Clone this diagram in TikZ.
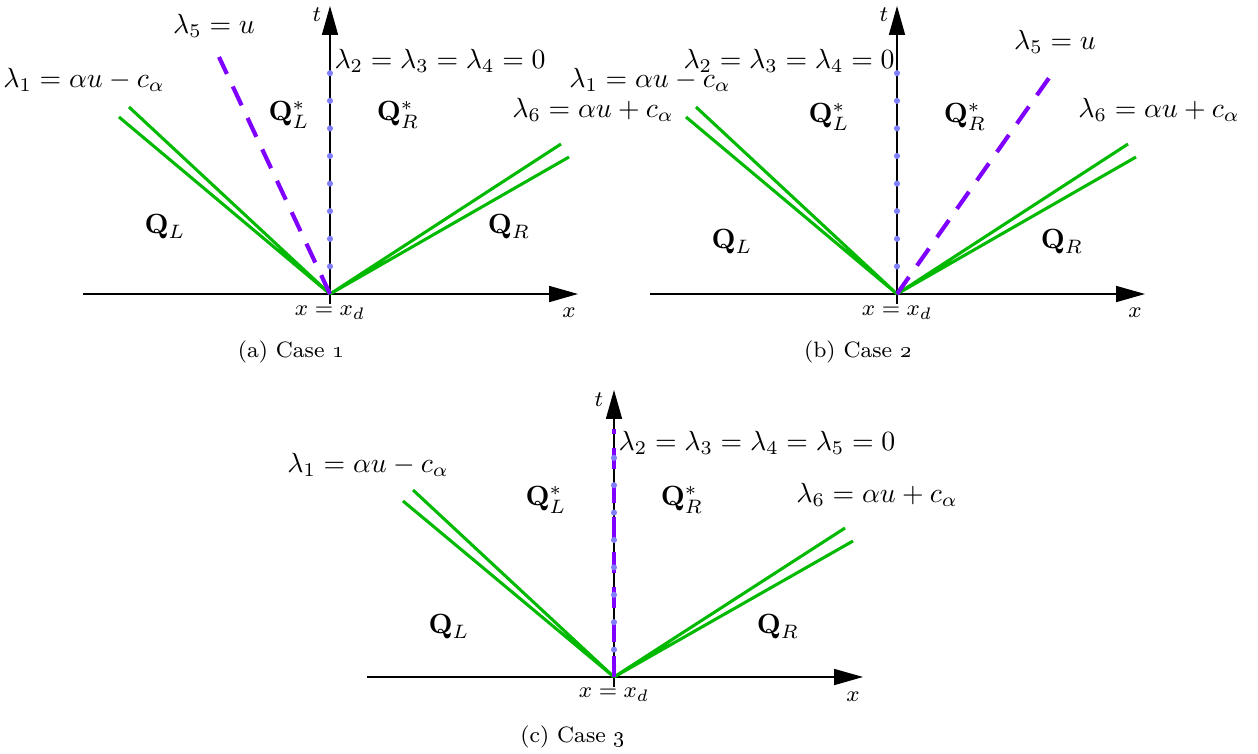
\documentclass[tikz,border=0pt]{standalone}
\usetikzlibrary{arrows.meta}
\definecolor{wavegreen}{RGB}{0,185,0}
\definecolor{wavepurple}{RGB}{128,0,255}
\definecolor{dotblue}{RGB}{128,128,255}
\tikzset{
  axisline/.style={line width=0.4pt, -{Triangle[length=10.4pt,width=5.8pt]}},
  wave/.style={wavegreen, line width=1.1pt},
  contact/.style={wavepurple, line width=1.5pt, dash pattern=on 7.5pt off 5pt},
  lbl/.style={inner sep=0pt, font=\normalsize},
  smalllbl/.style={inner sep=0pt, font=\footnotesize},
  caplbl/.style={inner sep=0pt, font=\fontsize{8}{9.5}\selectfont},
  dotmark/.style={fill=dotblue, draw=none},
}
\begin{document}
\begin{tikzpicture}[x=0.36pt,y=-0.36pt]
\useasboundingbox (0,0) rectangle (1258,753);
% ---------------- panel (a) ----------------
\coordinate (ao) at (330,294);
\coordinate (axs) at (83,294);
\coordinate (axe) at (578,294);
\coordinate (ats) at (330,304);
\coordinate (ate) at (330,6);
\coordinate (al1) at (129,107);
\coordinate (al2) at (119,117);
\coordinate (ar1) at (561,144);
\coordinate (ar2) at (569,157);
\coordinate (ac) at (219,57);
\draw[axisline] (axs) -- (axe);
\draw[axisline] (ats) -- (ate);
\draw[wave] (al1) -- (ao) -- (al2);
\draw[wave] (ar1) -- (ao) -- (ar2);
\draw[contact] (ao) -- (ac);
\foreach \k in {1,...,8} \fill[dotmark] (330,294-27.6*\k) circle[radius=1.1pt];
\node[lbl] (a5) at (214,26) {$\lambda_5=u$};
\node[lbl] (a2) at (440,61) {$\lambda_2=\lambda_3=\lambda_4=0$};
\node[lbl] (a1) at (84,80) {$\lambda_1=\alpha u-c_\alpha$};
\node[lbl] (a6) at (593,110) {$\lambda_6=\alpha u+c_\alpha$};
\node[lbl] (aqls) at (289,115) {$\mathbf{Q}_L^*$};
\node[lbl] (aqrs) at (398,115) {$\mathbf{Q}_R^*$};
\node[lbl] (aql) at (165,227) {$\mathbf{Q}_L$};
\node[lbl] (aqr) at (509,227) {$\mathbf{Q}_R$};
\node[smalllbl] (ax) at (569,313) {$x$};
\node[smalllbl] (at) at (317,15) {$t$};
\node[smalllbl] (axd) at (330,313) {$x=x_d$};
\node[caplbl] (acap) at (291,352) {(a) Case \oldstylenums{1}};
% ---------------- panel (b) ----------------
\coordinate (bo) at (897,294);
\coordinate (bxs) at (650,294);
\coordinate (bxe) at (1145,294);
\coordinate (bts) at (897,304);
\coordinate (bte) at (897,6);
\coordinate (bl1) at (696,107);
\coordinate (bl2) at (686,117);
\coordinate (br1) at (1128,144);
\coordinate (br2) at (1136,157);
\coordinate (bc) at (1056,68);
\draw[axisline] (bxs) -- (bxe);
\draw[axisline] (bts) -- (bte);
\draw[wave] (bl1) -- (bo) -- (bl2);
\draw[wave] (br1) -- (bo) -- (br2);
\draw[contact] (bo) -- (bc);
\foreach \k in {1,...,8} \fill[dotmark] (897,294-27.6*\k) circle[radius=1.1pt];
\node[lbl] (b5) at (1055,42) {$\lambda_5=u$};
\node[lbl] (b2) at (789,61) {$\lambda_2=\lambda_3=\lambda_4=0$};
\node[lbl] (b1) at (650,80) {$\lambda_1=\alpha u-c_\alpha$};
\node[lbl] (b6) at (1159,110) {$\lambda_6=\alpha u+c_\alpha$};
\node[lbl] (bqls) at (829,117) {$\mathbf{Q}_L^*$};
\node[lbl] (bqrs) at (965,117) {$\mathbf{Q}_R^*$};
\node[lbl] (bql) at (732,242) {$\mathbf{Q}_L$};
\node[lbl] (bqr) at (1062,242) {$\mathbf{Q}_R$};
\node[smalllbl] (bx) at (1135,313) {$x$};
\node[smalllbl] (bt) at (884,15) {$t$};
\node[smalllbl] (bxd) at (897,313) {$x=x_d$};
\node[caplbl] (bcap) at (858,352) {(b) Case \oldstylenums{2}};
% ---------------- panel (c) ----------------
\coordinate (co) at (614,677);
\coordinate (cxs) at (367,677);
\coordinate (cxe) at (863,677);
\coordinate (cts) at (614,687);
\coordinate (cte) at (614,390);
\coordinate (cl1) at (413,490);
\coordinate (cl2) at (403,501);
\coordinate (cr1) at (845,528);
\coordinate (cr2) at (853,541);
\coordinate (cc) at (614,429);
\draw[axisline] (cxs) -- (cxe);
\draw[axisline] (cts) -- (cte);
\draw[wave] (cl1) -- (co) -- (cl2);
\draw[wave] (cr1) -- (co) -- (cr2);
\draw[contact] (co) -- (cc);
\foreach \k in {1,...,8} \fill[dotmark] (614,677-27.4*\k) circle[radius=1.1pt];
\node[lbl] (c2) at (757,443) {$\lambda_2=\lambda_3=\lambda_4=\lambda_5=0$};
\node[lbl] (c1) at (368,465) {$\lambda_1=\alpha u-c_\alpha$};
\node[lbl] (c6) at (877,495) {$\lambda_6=\alpha u+c_\alpha$};
\node[lbl] (cqls) at (546,500) {$\mathbf{Q}_L^*$};
\node[lbl] (cqrs) at (682,500) {$\mathbf{Q}_R^*$};
\node[lbl] (cql) at (449,627) {$\mathbf{Q}_L$};
\node[lbl] (cqr) at (778,627) {$\mathbf{Q}_R$};
\node[smalllbl] (cx) at (853,697) {$x$};
\node[smalllbl] (ct) at (599,400) {$t$};
\node[smalllbl] (cxd) at (614,695) {$x=x_d$};
\node[caplbl] (ccap) at (573,737) {(c) Case \oldstylenums{3}};
\end{tikzpicture}
\end{document}
